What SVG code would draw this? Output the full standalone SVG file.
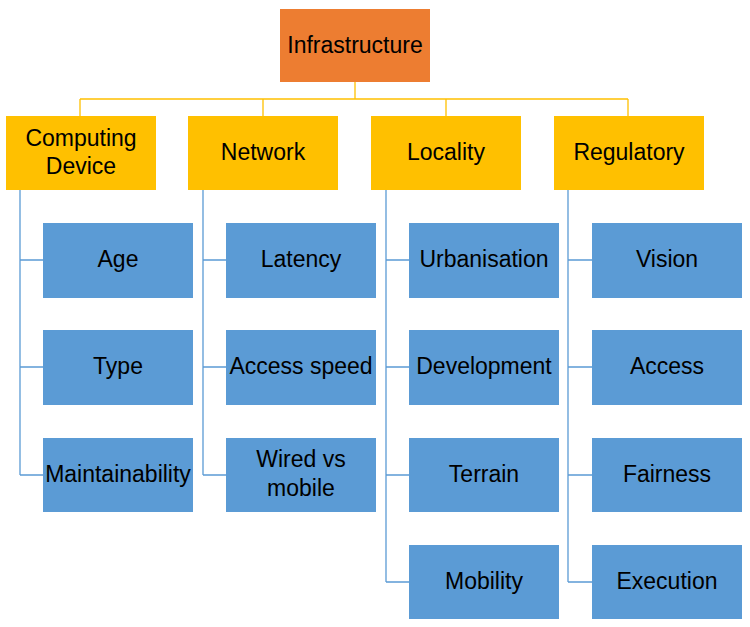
<svg xmlns="http://www.w3.org/2000/svg" width="750" height="627" viewBox="0 0 750 627">
<style>
.root{fill:#ED7D31}
.l1{fill:#FFC000}
.l2{fill:#5B9BD5}
text{font-family:"Liberation Sans",Arial,sans-serif;font-size:23px;fill:#000;text-anchor:middle}
.cy{fill:none;stroke:#FFC000;stroke-width:1.3}
.cb{fill:none;stroke:#5B9BD5;stroke-width:1.3}
</style>
<rect width="750" height="627" fill="#fff"/>
<g id="connectors">
<path class="cy" d="M355,82V99M80,99H628M80,99V116M263,99V116M446,99V116M628,99V116"/>
<path class="cb" d="M20,190V475M20,260H43M20,367H43M20,475H43"/>
<path class="cb" d="M203,190V475M203,260H226M203,367H226M203,475H226"/>
<path class="cb" d="M386,190V582M386,260H409M386,367H409M386,475H409M386,582H409"/>
<path class="cb" d="M568,190V582M568,260H592M568,367H592M568,475H592M568,582H592"/>
</g>
<g id="infrastructure"><rect class="root" x="280" y="9" width="150" height="73"/><text x="355" y="53">Infrastructure</text></g>
<g id="computing"><rect class="l1" x="6" y="116" width="150" height="74"/><text x="81" y="146">Computing</text><text x="81" y="174">Device</text></g>
<g id="network"><rect class="l1" x="188" y="116" width="150" height="74"/><text x="263" y="160">Network</text></g>
<g id="locality"><rect class="l1" x="371" y="116" width="150" height="74"/><text x="446" y="160">Locality</text></g>
<g id="regulatory"><rect class="l1" x="554" y="116" width="150" height="74"/><text x="629" y="160">Regulatory</text></g>
<g id="age"><rect class="l2" x="43" y="223" width="150" height="75"/><text x="118" y="267">Age</text></g>
<g id="type"><rect class="l2" x="43" y="330" width="150" height="75"/><text x="118" y="374">Type</text></g>
<g id="maintainability"><rect class="l2" x="43" y="438" width="150" height="74"/><text x="118" y="482">Maintainability</text></g>
<g id="latency"><rect class="l2" x="226" y="223" width="150" height="75"/><text x="301" y="267">Latency</text></g>
<g id="access-speed"><rect class="l2" x="226" y="330" width="150" height="75"/><text x="301" y="374">Access speed</text></g>
<g id="wired"><rect class="l2" x="226" y="438" width="150" height="74"/><text x="301" y="467">Wired vs</text><text x="301" y="496">mobile</text></g>
<g id="urbanisation"><rect class="l2" x="409" y="223" width="150" height="75"/><text x="484" y="267">Urbanisation</text></g>
<g id="development"><rect class="l2" x="409" y="330" width="150" height="75"/><text x="484" y="374">Development</text></g>
<g id="terrain"><rect class="l2" x="409" y="438" width="150" height="74"/><text x="484" y="482">Terrain</text></g>
<g id="mobility"><rect class="l2" x="409" y="545" width="150" height="74"/><text x="484" y="589">Mobility</text></g>
<g id="vision"><rect class="l2" x="592" y="223" width="150" height="75"/><text x="667" y="267">Vision</text></g>
<g id="access"><rect class="l2" x="592" y="330" width="150" height="75"/><text x="667" y="374">Access</text></g>
<g id="fairness"><rect class="l2" x="592" y="438" width="150" height="74"/><text x="667" y="482">Fairness</text></g>
<g id="execution"><rect class="l2" x="592" y="545" width="150" height="74"/><text x="667" y="589">Execution</text></g>
</svg>
